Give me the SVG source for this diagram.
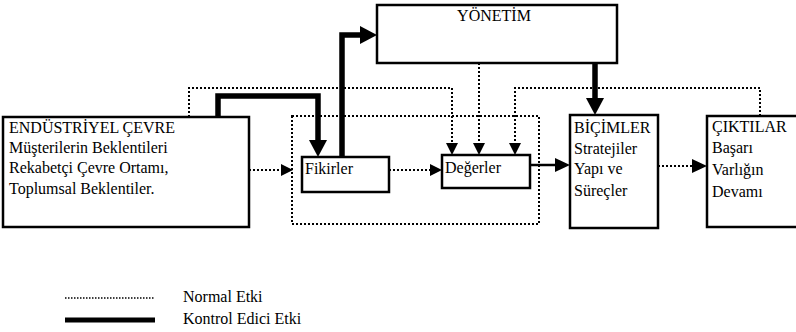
<svg xmlns="http://www.w3.org/2000/svg" width="796" height="332" viewBox="0 0 796 332">
<style>
.box{fill:#fff;stroke:#000;stroke-width:2.5}
.t{font-family:"Liberation Serif","Times New Roman",serif;font-size:16px;fill:#000}
.dot{fill:none;stroke:#000;stroke-width:2;stroke-dasharray:2 2}
.thick{fill:none;stroke:#000;stroke-width:5.5}
.mid{fill:none;stroke:#000;stroke-width:2.5}
</style>
<defs>
<marker id="ah" markerUnits="userSpaceOnUse" markerWidth="17" markerHeight="18" refX="0" refY="9" orient="auto"><path d="M0,0L17,9L0,18Z" fill="#000"/></marker>
<marker id="am" markerUnits="userSpaceOnUse" markerWidth="15" markerHeight="14" refX="0" refY="7" orient="auto"><path d="M0,0L15,7L0,14Z" fill="#000"/></marker>
<marker id="ad" markerUnits="userSpaceOnUse" markerWidth="12" markerHeight="12" refX="0" refY="6" orient="auto"><path d="M0,0L12,6L0,12Z" fill="#000"/></marker>
</defs>
<g id="connectors">
<rect class="dot" x="292" y="116" width="247" height="108"/>
<path class="dot" d="M189,117V88H452V143" marker-end="url(#ad)"/>
<path class="dot" d="M479,63V143" marker-end="url(#ad)"/>
<path class="dot" d="M760,116V88H515V143" marker-end="url(#ad)"/>
<path class="dot" d="M249,170H281" marker-end="url(#ad)"/>
<path class="dot" d="M389,170H430" marker-end="url(#ad)"/>
<path class="dot" d="M658,166H692" marker-end="url(#am)"/>
<path class="mid" d="M530,165H555" marker-end="url(#am)"/>
<path class="thick" d="M218,117V96H318V140" marker-end="url(#ah)"/>
<path class="thick" d="M342,157V35H360" marker-end="url(#ah)"/>
<path class="thick" d="M595,63V98" marker-end="url(#ah)"/>
</g>
<g id="yonetim">
<rect class="box" x="377" y="5" width="240" height="58"/>
<text class="t" x="494" y="21" text-anchor="middle" font-size="15">YÖNETİM</text>
</g>
<g id="endustriyel">
<rect class="box" x="3" y="117" width="246" height="110"/>
<text class="t" x="9" y="133">ENDÜSTRİYEL ÇEVRE</text>
<text class="t" x="9" y="153">Müşterilerin Beklentileri</text>
<text class="t" x="9" y="173">Rekabetçi Çevre Ortamı,</text>
<text class="t" x="9" y="194">Toplumsal Beklentiler.</text>
</g>
<g id="fikirler">
<rect class="box" x="302" y="157" width="87" height="35"/>
<text class="t" x="305" y="174">Fikirler</text>
</g>
<g id="degerler">
<rect class="box" x="442" y="155" width="88" height="33"/>
<text class="t" x="445" y="173">Değerler</text>
</g>
<g id="bicimler">
<rect class="box" x="570" y="115" width="88" height="113"/>
<text class="t" x="574" y="133">BİÇİMLER</text>
<text class="t" x="574" y="154">Stratejiler</text>
<text class="t" x="574" y="174">Yapı ve</text>
<text class="t" x="574" y="196">Süreçler</text>
</g>
<g id="ciktilar">
<rect class="box" x="707" y="116" width="100" height="111"/>
<text class="t" x="712" y="132">ÇIKTILAR</text>
<text class="t" x="712" y="153">Başarı</text>
<text class="t" x="712" y="175">Varlığın</text>
<text class="t" x="712" y="197">Devamı</text>
</g>
<g id="legend">
<line x1="65" y1="298" x2="155" y2="298" stroke="#000" stroke-width="1.5" stroke-dasharray="1.5 1.5"/>
<text class="t" x="183" y="302" font-size="15.5">Normal Etki</text>
<line x1="65" y1="320" x2="155" y2="320" stroke="#000" stroke-width="5"/>
<text class="t" x="183" y="324" font-size="15.5">Kontrol Edici Etki</text>
</g>
</svg>
